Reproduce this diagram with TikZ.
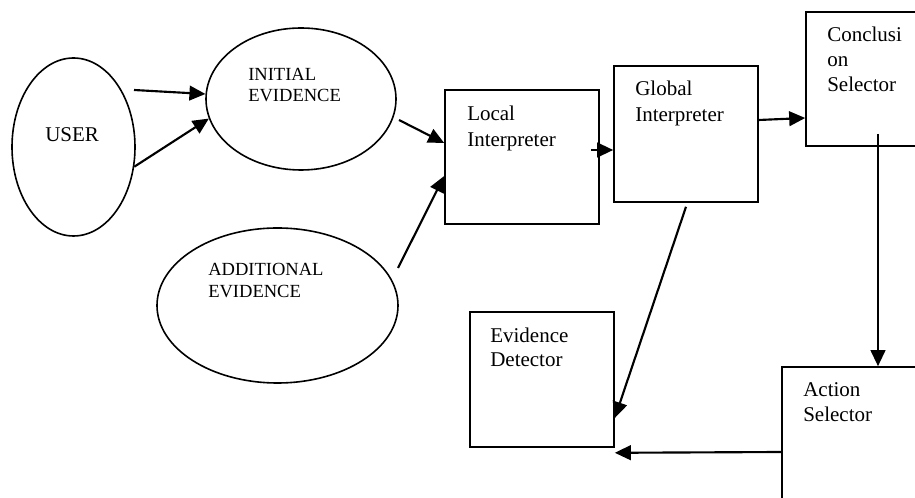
\documentclass[tikz,border=0pt]{standalone}
\usepackage{fontspec}
\setmainfont{Liberation Serif}
\usetikzlibrary{shapes.geometric,arrows.meta}
\begin{document}
\begin{tikzpicture}[x=0.75pt,y=-0.75pt,
  blob/.style={draw,ellipse,line width=1.2pt,inner sep=0pt},
  unit/.style={draw,rectangle,line width=1.2pt,inner sep=0pt},
  boxtext/.style={anchor=base west,inner sep=0pt,font=\fontsize{15.75}{19}\selectfont},
  blobtext/.style={anchor=base west,inner sep=0pt,font=\fontsize{13.9}{17}\selectfont},
  arr/.style={line width=1.6pt,-{Triangle[length=12pt,width=11pt]}}]
\useasboundingbox (0,0) rectangle (915,498);
\clip (0,0) rectangle (915,498);

% sources of evidence
\node[blob,minimum width=123*0.75pt,minimum height=178*0.75pt] (user) at (73.5,147) {};
\node[blob,minimum width=190*0.75pt,minimum height=142*0.75pt] (init) at (301,99) {};
\node[blob,minimum width=241*0.75pt,minimum height=155*0.75pt] (addl) at (277.5,305.5) {};

% processing units
\node[unit,minimum width=154*0.75pt,minimum height=134*0.75pt] (local) at (522,157) {};
\node[unit,minimum width=144*0.75pt,minimum height=136*0.75pt] (global) at (686,134) {};
\node[unit,minimum width=144*0.75pt,minimum height=134*0.75pt] (concl) at (878,79) {};
\node[unit,minimum width=192*0.75pt,minimum height=170*0.75pt] (action) at (878,452) {};
\node[unit,minimum width=144*0.75pt,minimum height=135*0.75pt] (evdet) at (542,379.5) {};

% labels
\node[boxtext] (usertxt) at (45,142) {USER};
\node[blobtext] (inittxt1) at (248,81) {INITIAL};
\node[blobtext] (inittxt2) at (248,102) {EVIDENCE};
\node[blobtext] (addltxt1) at (208,276) {ADDITIONAL};
\node[blobtext] (addltxt2) at (208,298) {EVIDENCE};
\node[boxtext] (localtxt1) at (467,121) {Local};
\node[boxtext] (localtxt2) at (467,147) {Interpreter};
\node[boxtext] (globaltxt1) at (635,96) {Global};
\node[boxtext] (globaltxt2) at (635,122) {Interpreter};
\node[boxtext] (concltxt1) at (827,42) {Conclusi};
\node[boxtext] (concltxt2) at (827,67) {on};
\node[boxtext] (concltxt3) at (827,92) {Selector};
\node[boxtext] (actiontxt1) at (803,397) {Action};
\node[boxtext] (actiontxt2) at (803,422) {Selector};
\node[boxtext] (evdettxt1) at (490,343) {Evidence};
\node[boxtext] (evdettxt2) at (490,367) {Detector};

% free ends of connectors
\coordinate (userout) at (134,90);
\coordinate (initout) at (399,120);
\coordinate (addlout) at (398,268);
\coordinate (localout) at (591,150);
\coordinate (conclout) at (878,134);

% connectors
\draw[arr] (userout) -- (init.177);
\draw[arr] (user.-18) -- (init.192);
\draw[arr] (initout) -- ([yshift=10.5pt]local.west);
\draw[arr] (addlout) -- ([yshift=-14.25pt]local.west);
\draw[arr] (localout) -- ([yshift=-12pt]global.west);
\draw[arr] ([yshift=10.5pt]global.east) -- ([yshift=-29.25pt]concl.west);
\draw[arr] (conclout) -- (action.north);
\draw[arr] ([yshift=-3pt]global.south) -- ([yshift=-28.9pt]evdet.east);
\draw[arr] (action.west) -- ([yshift=-3.75pt]evdet.south east);
\end{tikzpicture}
\end{document}
